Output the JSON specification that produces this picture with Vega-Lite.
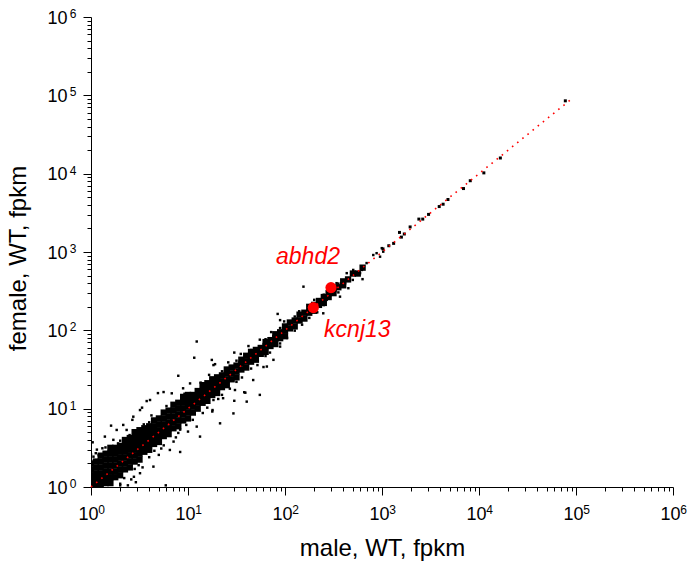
{
  "$schema": "https://vega.github.io/schema/vega-lite/v6.json",
  "width": 582,
  "height": 470,
  "autosize": "none",
  "padding": {"left": 91, "top": 17, "right": 17, "bottom": 84},
  "background": "white",
  "config": {
    "view": {"stroke": null},
    "axis": {"domainColor": "black", "tickColor": "black", "labelFont": "Liberation Sans", "labelFontSize": 18, "labelColor": "black", "titleFont": "Liberation Sans", "titleFontSize": 24, "titleFontWeight": "normal", "titleColor": "black", "grid": false, "labelOverlap": false, "labelFlush": false, "labelBound": false}
  },
  "datasets": {
    "core": [
      {"male":1,"female":1},{"male":1,"female":1.189},{"male":1,"female":1.413},{"male":1,"female":1.679},{"male":1,"female":1.995},
      {"male":1.122,"female":1.059},{"male":1.122,"female":1.259},{"male":1.122,"female":1.496},{"male":1.122,"female":1.778},{"male":1.122,"female":2.113},
      {"male":1.259,"female":1.059},{"male":1.259,"female":1.259},{"male":1.259,"female":1.496},{"male":1.259,"female":1.778},{"male":1.259,"female":2.113},{"male":1.259,"female":2.512},
      {"male":1.413,"female":1.122},{"male":1.413,"female":1.334},{"male":1.413,"female":1.585},{"male":1.413,"female":1.884},{"male":1.413,"female":2.239},{"male":1.413,"female":2.661},
      {"male":1.585,"female":1.122},{"male":1.585,"female":1.334},{"male":1.585,"female":1.585},{"male":1.585,"female":1.884},{"male":1.585,"female":2.239},{"male":1.585,"female":2.661},{"male":1.585,"female":3.162},
      {"male":1.778,"female":1.334},{"male":1.778,"female":1.585},{"male":1.778,"female":1.884},{"male":1.778,"female":2.239},{"male":1.778,"female":2.661},{"male":1.778,"female":3.162},
      {"male":1.995,"female":1.413},{"male":1.995,"female":1.679},{"male":1.995,"female":1.995},{"male":1.995,"female":2.371},{"male":1.995,"female":2.818},{"male":1.995,"female":3.35},
      {"male":2.239,"female":1.679},{"male":2.239,"female":1.995},{"male":2.239,"female":2.371},{"male":2.239,"female":2.818},{"male":2.239,"female":3.35},{"male":2.239,"female":3.981},
      {"male":2.512,"female":1.778},{"male":2.512,"female":2.113},{"male":2.512,"female":2.512},{"male":2.512,"female":2.985},{"male":2.512,"female":3.548},{"male":2.512,"female":4.217},
      {"male":2.818,"female":2.113},{"male":2.818,"female":2.512},{"male":2.818,"female":2.985},{"male":2.818,"female":3.548},{"male":2.818,"female":4.217},{"male":2.818,"female":5.012},
      {"male":3.162,"female":2.239},{"male":3.162,"female":2.661},{"male":3.162,"female":3.162},{"male":3.162,"female":3.758},{"male":3.162,"female":4.467},{"male":3.162,"female":5.309},
      {"male":3.548,"female":2.818},{"male":3.548,"female":3.35},{"male":3.548,"female":3.981},{"male":3.548,"female":4.732},{"male":3.548,"female":5.623},
      {"male":3.981,"female":2.985},{"male":3.981,"female":3.548},{"male":3.981,"female":4.217},{"male":3.981,"female":5.012},{"male":3.981,"female":5.957},
      {"male":4.467,"female":3.548},{"male":4.467,"female":4.217},{"male":4.467,"female":5.012},{"male":4.467,"female":5.957},{"male":4.467,"female":7.079},
      {"male":5.012,"female":3.758},{"male":5.012,"female":4.467},{"male":5.012,"female":5.309},{"male":5.012,"female":6.31},{"male":5.012,"female":7.499},
      {"male":5.623,"female":4.467},{"male":5.623,"female":5.309},{"male":5.623,"female":6.31},{"male":5.623,"female":7.499},{"male":5.623,"female":8.913},
      {"male":6.31,"female":4.732},{"male":6.31,"female":5.623},{"male":6.31,"female":6.683},{"male":6.31,"female":7.943},{"male":6.31,"female":9.441},
      {"male":7.079,"female":5.623},{"male":7.079,"female":6.683},{"male":7.079,"female":7.943},{"male":7.079,"female":9.441},{"male":7.079,"female":11.22},
      {"male":7.943,"female":5.957},{"male":7.943,"female":7.079},{"male":7.943,"female":8.414},{"male":7.943,"female":10},{"male":7.943,"female":11.89},
      {"male":8.913,"female":7.079},{"male":8.913,"female":8.414},{"male":8.913,"female":10},{"male":8.913,"female":11.89},{"male":8.913,"female":14.13},
      {"male":10,"female":7.499},{"male":10,"female":8.913},{"male":10,"female":10.59},{"male":10,"female":12.59},{"male":10,"female":14.96},
      {"male":11.22,"female":8.913},{"male":11.22,"female":10.59},{"male":11.22,"female":12.59},{"male":11.22,"female":14.96},
      {"male":12.59,"female":10},{"male":12.59,"female":11.89},{"male":12.59,"female":14.13},{"male":12.59,"female":16.79},
      {"male":14.13,"female":11.89},{"male":14.13,"female":14.13},{"male":14.13,"female":16.79},{"male":14.13,"female":19.95},
      {"male":15.85,"female":12.59},{"male":15.85,"female":14.96},{"male":15.85,"female":17.78},{"male":15.85,"female":21.13},
      {"male":17.78,"female":14.96},{"male":17.78,"female":17.78},{"male":17.78,"female":21.13},{"male":17.78,"female":23.71},
      {"male":19.95,"female":15.85},{"male":19.95,"female":18.84},{"male":19.95,"female":22.39},{"male":19.95,"female":25.12},
      {"male":22.39,"female":18.84},{"male":22.39,"female":22.39},{"male":22.39,"female":26.61},
      {"male":25.12,"female":19.95},{"male":25.12,"female":23.71},{"male":25.12,"female":28.18},{"male":25.12,"female":31.62},
      {"male":28.18,"female":23.71},{"male":28.18,"female":28.18},{"male":28.18,"female":33.5},
      {"male":31.62,"female":25.12},{"male":31.62,"female":29.85},{"male":31.62,"female":35.48},
      {"male":35.48,"female":31.62},{"male":35.48,"female":37.58},{"male":35.48,"female":42.17},
      {"male":39.81,"female":33.5},{"male":39.81,"female":39.81},{"male":39.81,"female":47.32},
      {"male":44.67,"female":39.81},{"male":44.67,"female":47.32},{"male":44.67,"female":53.09},
      {"male":50.12,"female":42.17},{"male":50.12,"female":50.12},{"male":50.12,"female":56.23},
      {"male":56.23,"female":50.12},{"male":56.23,"female":59.57},
      {"male":63.1,"female":53.09},{"male":63.1,"female":63.1},{"male":63.1,"female":70.79},
      {"male":70.79,"female":63.1},{"male":70.79,"female":74.99},
      {"male":79.43,"female":66.83},{"male":79.43,"female":79.43},{"male":79.43,"female":89.13},
      {"male":89.13,"female":79.43},{"male":89.13,"female":94.41},
      {"male":100,"female":84.14},{"male":100,"female":100},{"male":100,"female":112.2},
      {"male":112.2,"female":105.9},{"male":112.2,"female":125.9},
      {"male":125.9,"female":112.2},{"male":125.9,"female":133.4},
      {"male":141.3,"female":133.4},{"male":141.3,"female":158.5},
      {"male":158.5,"female":141.3},{"male":158.5,"female":167.9},
      {"male":177.8,"female":167.9},{"male":177.8,"female":199.5},
      {"male":199.5,"female":177.8},{"male":199.5,"female":211.3},
      {"male":223.9,"female":211.3},{"male":223.9,"female":237.1},
      {"male":251.2,"female":223.9},{"male":251.2,"female":266.1},
      {"male":281.8,"female":266.1},{"male":281.8,"female":298.5},
      {"male":316.2,"female":298.5},{"male":316.2,"female":335},
      {"male":354.8,"female":354.8},
      {"male":398.1,"female":375.8},{"male":398.1,"female":421.7},
      {"male":446.7,"female":446.7},
      {"male":501.2,"female":530.9},
      {"male":562.3,"female":530.9},
      {"male":631,"female":631}
    ],
    "fringe": [
      {"male":1.04,"female":3.72},{"male":1.31,"female":3.12},{"male":1.12,"female":2.7},{"male":1.06,"female":2.44},{"male":1.39,"female":4.4},{"male":1.7,"female":4.0},{"male":1.61,"female":6.07},{"male":1.84,"female":5.35},{"male":2.15,"female":6.2},{"male":2.15,"female":4.0},
      {"male":2.33,"female":5.35},{"male":2.67,"female":7.2},{"male":2.73,"female":7.9},{"male":3.36,"female":10.3},{"male":3.75,"female":12.5},{"male":3.2,"female":9.6},{"male":4.06,"female":12.9},{"male":4.9,"female":15.8},{"male":5.6,"female":16.3},{"male":6.8,"female":15.7},
      {"male":7.94,"female":26.3},{"male":8.9,"female":18.2},{"male":10.5,"female":21},{"male":9.7,"female":15.7},{"male":12.3,"female":72},{"male":11.6,"female":44.7},{"male":17.6,"female":41.9},{"male":18.3,"female":36},{"male":19.0,"female":37},{"male":30,"female":52},
      {"male":5.9,"female":1.05},{"male":2.77,"female":1.35},{"male":3.4,"female":1.78},{"male":5.0,"female":2.57},{"male":6.5,"female":2.97},{"male":7.1,"female":3.8},{"male":8.3,"female":5.4},{"male":10,"female":5.1},{"male":12.3,"female":5.9},{"male":17.9,"female":9.6},
      {"male":23,"female":13.6},{"male":30.5,"female":17.3},{"male":38,"female":16.2},{"male":30,"female":12.6},{"male":17.8,"female":9.2},{"male":4.4,"female":1.82},{"male":3.2,"female":1.5},{"male":8.3,"female":2.8},{"male":13.3,"female":4.4},{"male":21.4,"female":6.5},
      {"male":29.4,"female":8.7},{"male":40.3,"female":12.3},{"male":55,"female":15},{"male":47,"female":23.2},{"male":76,"female":42},{"male":89,"female":62},{"male":65,"female":34.5},{"male":60,"female":34},{"male":39,"female":16},{"male":18.3,"female":12.9},
      {"male":2.0,"female":1.1},{"male":2.4,"female":1.05},{"male":2.9,"female":1.15},{"male":2.6,"female":1.25},{"male":2.2,"female":1.3},{"male":1.2,"female":2.55},{"male":1.35,"female":2.3},{"male":1.5,"female":2.7},{"male":1.0,"female":2.1},{"male":1.0,"female":2.6},{"male":1.15,"female":3.0},
      {"male":84,"female":162},{"male":89,"female":135},{"male":155,"female":361},{"male":340,"female":400},{"male":450,"female":345},{"male":248,"female":165},{"male":269,"female":245},{"male":369,"female":269},{"male":505,"female":590},{"male":694,"female":722},
      {"male":433,"female":537},{"male":594,"female":537},{"male":813,"female":915},{"male":955,"female":871},{"male":995,"female":1120},{"male":620,"female":590},{"male":630,"female":450},{"male":880,"female":966},{"male":1030,"female":1010},
      {"male":1.41,"female":3.2},{"male":2.0,"female":3.9},{"male":2.82,"female":5.0},{"male":3.98,"female":6.7},{"male":5.62,"female":8.6},{"male":7.94,"female":11.5},{"male":11.2,"female":15.6},{"male":15.8,"female":21.5},{"male":22.4,"female":30},{"male":31.6,"female":41},
      {"male":44.7,"female":56},{"male":63,"female":77},{"male":89,"female":107},{"male":126,"female":150},{"male":178,"female":205},{"male":251,"female":285},{"male":355,"female":395},{"male":500,"female":545},
      {"male":2.0,"female":1.05},{"male":2.82,"female":1.7},{"male":3.98,"female":2.4},{"male":5.62,"female":3.4},{"male":7.94,"female":4.9},{"male":11.2,"female":7.2},{"male":15.8,"female":10.3},{"male":22.4,"female":15.0},{"male":31.6,"female":22},{"male":44.7,"female":32.5},
      {"male":63,"female":47},{"male":89,"female":68},{"male":126,"female":99},{"male":178,"female":144},{"male":251,"female":210},{"male":355,"female":305},{"male":500,"female":440},
      {"male":1.9,"female":3.6},{"male":2.5,"female":4.6},{"male":3.1,"female":1.9},{"male":3.5,"female":6.3},{"male":4.5,"female":2.9},{"male":4.2,"female":8.2},{"male":6.0,"female":10.8},{"male":5.3,"female":3.1},{"male":7.5,"female":4.3},{"male":9.2,"female":15.5},
      {"male":9.6,"female":6.2},{"male":13.5,"female":21.5},{"male":14.2,"female":8.8},{"male":16.5,"female":27},{"male":20.5,"female":13.3},{"male":26,"female":39},{"male":27,"female":18},{"male":35,"female":50},{"male":36,"female":25},{"male":42,"female":63},
      {"male":52,"female":36},{"male":55,"female":76},{"male":70,"female":52},{"male":72,"female":95},{"male":98,"female":130},{"male":105,"female":80},{"male":140,"female":175},{"male":150,"female":118},{"male":200,"female":245},{"male":215,"female":170}
    ],
    "sparse": [
      {"male":1023,"female":1096},{"male":1175,"female":1202},{"male":1318,"female":1288},{"male":1514,"female":1778},{"male":1585,"female":1549},{"male":1698,"female":1698},{"male":1950,"female":2089},{"male":2399,"female":2630},{"male":2630,"female":2630},{"male":3020,"female":3020},
      {"male":3890,"female":3802},{"male":4266,"female":4074},{"male":4786,"female":4677},{"male":6918,"female":6457},{"male":8128,"female":8128},{"male":11220,"female":10233},{"male":16600,"female":15850},{"male":77620,"female":85110}
    ],
    "diagonal": [{"male":1,"female":1},{"male":88000,"female":88000}],
    "genes": [{"gene":"abhd2","male":298,"female":351},{"gene":"kcnj13","male":196,"female":195}]
  },
  "resolve": {"axis": {"x": "independent", "y": "independent"}},
  "layer": [
    {"data": {"name": "core"}, "mark": {"type": "square", "size": 40, "color": "black", "opacity": 1, "clip": true},
      "encoding": {
        "x": {"field": "male", "type": "quantitative", "title": "male, WT, fpkm",
          "scale": {"type": "log", "domain": [1, 1000000], "nice": false},
          "axis": {"orient": "bottom", "values": [1,2,3,4,5,6,7,8,9,10,20,30,40,50,60,70,80,90,100,200,300,400,500,600,700,800,900,1000,2000,3000,4000,5000,6000,7000,8000,9000,10000,20000,30000,40000,50000,60000,70000,80000,90000,100000,200000,300000,400000,500000,600000,700000,800000,900000,1000000],
            "labelExpr": "indexof([1,10,100,1000,10000,100000,1000000], datum.value) >= 0 ? '10' : ''",
            "tickSize": {"condition": {"test": "indexof([1,10,100,1000,10000,100000,1000000], datum.value) >= 0", "value": 8}, "value": 4},
            "labelPadding": 10, "labelOffset": -3, "titlePadding": 13}},
        "y": {"field": "female", "type": "quantitative", "title": "female, WT, fpkm",
          "scale": {"type": "log", "domain": [1, 1000000], "nice": false},
          "axis": {"orient": "left", "values": [1,2,3,4,5,6,7,8,9,10,20,30,40,50,60,70,80,90,100,200,300,400,500,600,700,800,900,1000,2000,3000,4000,5000,6000,7000,8000,9000,10000,20000,30000,40000,50000,60000,70000,80000,90000,100000,200000,300000,400000,500000,600000,700000,800000,900000,1000000],
            "labelExpr": "indexof([1,10,100,1000,10000,100000,1000000], datum.value) >= 0 ? '10' : ''",
            "tickSize": {"condition": {"test": "indexof([1,10,100,1000,10000,100000,1000000], datum.value) >= 0", "value": 8}, "value": 4},
            "labelPadding": 16, "labelOffset": 1, "titlePadding": 16, "titleY": 241}}
      }},
    {"data": {"name": "fringe"}, "mark": {"type": "square", "size": 6, "color": "black", "opacity": 1, "clip": true},
      "encoding": {
        "x": {"field": "male", "type": "quantitative", "title": null,
          "scale": {"type": "log", "domain": [1, 1000000], "nice": false},
          "axis": {"orient": "bottom", "values": [1,10,100,1000,10000,100000,1000000], "domain": false, "ticks": false, "tickSize": 0,
            "labelExpr": "datum.value == 1 ? '0' : datum.value == 10 ? '1' : datum.value == 100 ? '2' : datum.value == 1000 ? '3' : datum.value == 10000 ? '4' : datum.value == 100000 ? '5' : '6'",
            "labelFontSize": 12, "labelPadding": 17, "labelOffset": 10}},
        "y": {"field": "female", "type": "quantitative", "title": null,
          "scale": {"type": "log", "domain": [1, 1000000], "nice": false},
          "axis": {"orient": "left", "values": [1,10,100,1000,10000,100000,1000000], "domain": false, "ticks": false, "tickSize": 0,
            "labelExpr": "datum.value == 1 ? '0' : datum.value == 10 ? '1' : datum.value == 100 ? '2' : datum.value == 1000 ? '3' : datum.value == 10000 ? '4' : datum.value == 100000 ? '5' : '6'",
            "labelFontSize": 12, "labelPadding": 15, "labelOffset": -3.5}}
      }},
    {"data": {"name": "sparse"}, "mark": {"type": "square", "size": 9, "color": "black", "opacity": 1, "clip": true},
      "encoding": {"x": {"field": "male", "type": "quantitative", "axis": null}, "y": {"field": "female", "type": "quantitative", "axis": null}}},
    {"data": {"name": "diagonal"}, "mark": {"type": "line", "color": "#ff0000", "strokeWidth": 1.6, "strokeDash": [1.6, 5]},
      "encoding": {"x": {"field": "male", "type": "quantitative", "axis": null}, "y": {"field": "female", "type": "quantitative", "axis": null}}},
    {"data": {"name": "genes"}, "mark": {"type": "circle", "size": 125, "color": "#ff0000", "opacity": 1},
      "encoding": {"x": {"field": "male", "type": "quantitative", "axis": null}, "y": {"field": "female", "type": "quantitative", "axis": null}}},
    {"data": {"name": "genes"}, "transform": [{"filter": "datum.gene == 'abhd2'"}], "mark": {"type": "text", "font": "Liberation Sans", "fontSize": 23, "fontStyle": "italic", "color": "#ff0000", "align": "center", "baseline": "alphabetic", "dx": -23, "dy": -24},
      "encoding": {"x": {"field": "male", "type": "quantitative", "axis": null}, "y": {"field": "female", "type": "quantitative", "axis": null}, "text": {"field": "gene"}}},
    {"data": {"name": "genes"}, "transform": [{"filter": "datum.gene == 'kcnj13'"}], "mark": {"type": "text", "font": "Liberation Sans", "fontSize": 23, "fontStyle": "italic", "color": "#ff0000", "align": "center", "baseline": "alphabetic", "dx": 44, "dy": 29},
      "encoding": {"x": {"field": "male", "type": "quantitative", "axis": null}, "y": {"field": "female", "type": "quantitative", "axis": null}, "text": {"field": "gene"}}}
  ]
}
